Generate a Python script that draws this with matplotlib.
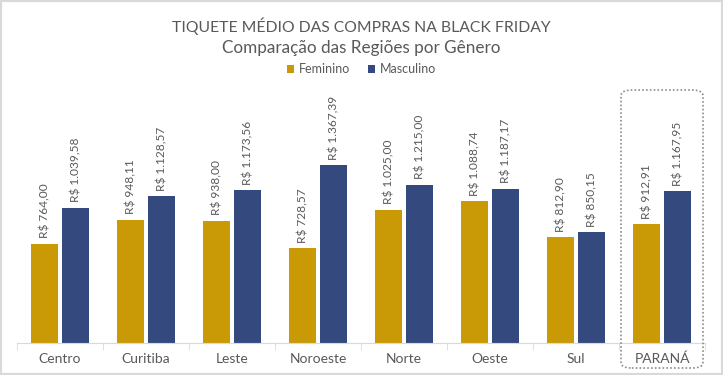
import matplotlib.pyplot as plt
import numpy as np
from matplotlib.patches import FancyBboxPatch, Rectangle

regioes = ["Centro", "Curitiba", "Leste", "Noroeste", "Norte", "Oeste", "Sul", "PARANÁ"]
feminino = [764.00, 948.11, 938.00, 728.57, 1025.00, 1088.74, 812.90, 912.91]
masculino = [1039.58, 1128.57, 1173.56, 1367.39, 1215.00, 1187.17, 850.15, 1167.95]

cor_fem = "#C99A06"
cor_masc = "#344A7E"
cinza = "#595959"

plt.rcParams['font.family'] = ['Lato', 'DejaVu Sans']

def moeda(v):
    s = f"{v:,.2f}".replace(",", "X").replace(".", ",").replace("X", ".")
    return "R$ " + s

fig = plt.figure(figsize=(7.23, 3.75), dpi=100)
ax = fig.add_axes([17 / 723, 32 / 375, 688 / 723, 0.555])

x = np.arange(len(regioes))
w = 0.314
off = 0.18
b1 = ax.bar(x - off, feminino, w, color=cor_fem, label="Feminino")
b2 = ax.bar(x + off, masculino, w, color=cor_masc, label="Masculino")

for bars, vals in [(b1, feminino), (b2, masculino)]:
    for b, v in zip(bars, vals):
        ax.annotate(moeda(v), (b.get_x() + b.get_width() / 2, v),
                    xytext=(0, 4), textcoords="offset points",
                    rotation=90, ha="center", va="bottom",
                    fontsize=8.6, color=cinza)

ax.set_xlim(-0.5, len(regioes) - 0.5)
ax.set_ylim(0, 1600)
ax.set_yticks([])
for s in ["top", "right", "left"]:
    ax.spines[s].set_visible(False)
ax.spines["bottom"].set_color("#d9d9d9")
ax.set_xticks(x)
ax.set_xticklabels(regioes, fontsize=10, color=cinza)
ax.tick_params(axis="x", length=0, pad=7)
ax.set_xticks(np.arange(-0.5, len(regioes), 1), minor=True)
ax.tick_params(axis="x", which="minor", length=5, color="#d9d9d9")

fig.text(0.5, 1 - 26 / 375, "TIQUETE MÉDIO DAS COMPRAS NA BLACK FRIDAY",
         ha="center", va="center", fontsize=11.3, color=cinza)
fig.text(0.5, 1 - 48 / 375, "Comparação das Regiões por Gênero",
         ha="center", va="center", fontsize=12.3, color=cinza)
fig.legend(loc="center", bbox_to_anchor=(0.5, 1 - 69 / 375), ncol=2,
           frameon=False, fontsize=9, labelcolor=cinza,
           handlelength=0.6, handleheight=0.6, handletextpad=0.4,
           columnspacing=1.4)

# caixa pontilhada em volta do Paraná
caixa = FancyBboxPatch((621 / 723, 7 / 375), 82 / 723, 278 / 375,
                       boxstyle="round,pad=0,rounding_size=0.015",
                       transform=fig.transFigure, fill=False,
                       edgecolor="#8c8c8c", linestyle=(0, (1, 1.3)), linewidth=1.2)
fig.patches.append(caixa)

fig.patches.append(Rectangle((0, 0), 1, 1, transform=fig.transFigure, fill=False,
                             edgecolor="#d9d9d9", linewidth=3))

fig.savefig("out.png", dpi=100)
